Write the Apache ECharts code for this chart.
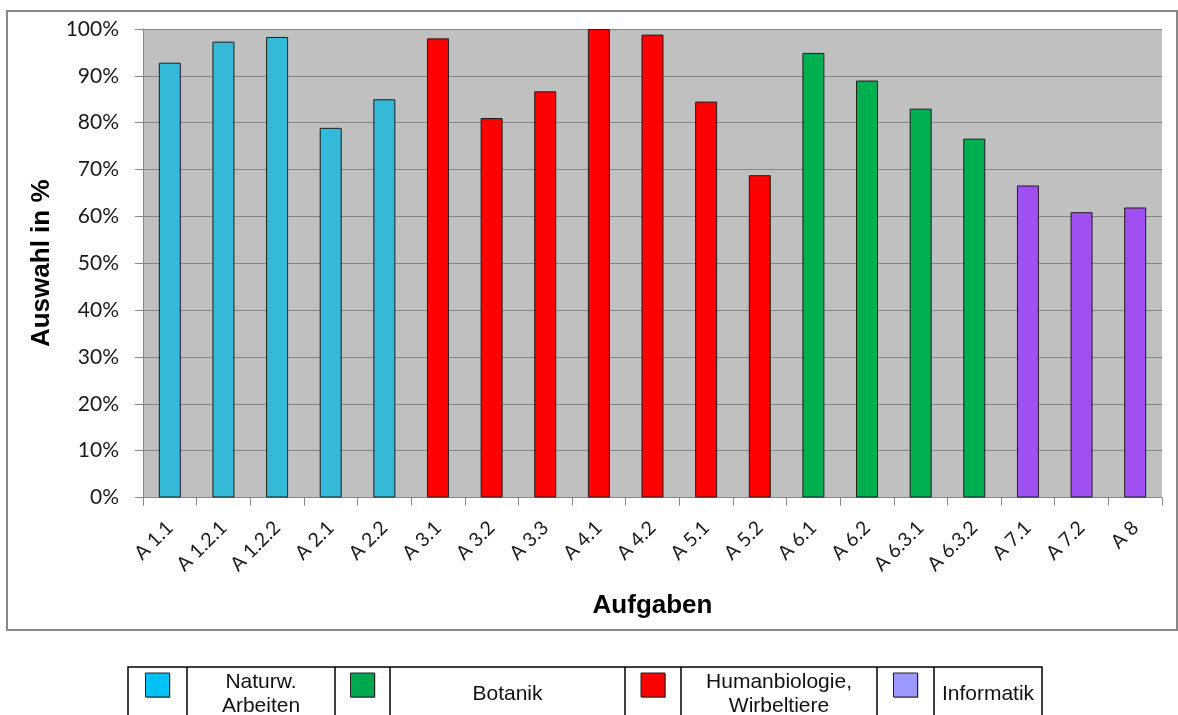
<!DOCTYPE html>
<html>
<head>
<meta charset="utf-8">
<script src="https://cdn.jsdelivr.net/npm/echarts@6/dist/echarts.min.js"></script>
<style>
html,body{margin:0;padding:0;background:#fff;}
#chart{width:1178px;height:715px;}
</style>
</head>
<body>
<div id="chart"></div>
<script>
const categories = ['A 1.1','A 1.2.1','A 1.2.2','A 2.1','A 2.2','A 3.1','A 3.2','A 3.3','A 4.1','A 4.2','A 5.1','A 5.2','A 6.1','A 6.2','A 6.3.1','A 6.3.2','A 7.1','A 7.2','A 8'];
const values = [92.8, 97.3, 98.3, 78.9, 85.0, 98.0, 81.0, 86.7, 100, 98.8, 84.5, 68.8, 94.9, 89.0, 83.0, 76.6, 66.6, 60.9, 61.9];
const groups = ['nat','nat','nat','nat','nat','hum','hum','hum','hum','hum','hum','hum','bot','bot','bot','bot','inf','inf','inf'];
const groupBarColors = {nat:'#35B9D9', bot:'#00AF50', hum:'#FF0000', inf:'#A050F0'};
const legendItems = [
  {label:'Naturw.\nArbeiten', color:'#00C2F5'},
  {label:'Botanik', color:'#00A84F'},
  {label:'Humanbiologie,\nWirbeltiere', color:'#FF0000'},
  {label:'Informatik', color:'#9999FF'}
];
const yTickMax = 100, yTickStep = 10;

const chart = echarts.init(document.getElementById('chart'));

// legend table layout (cell boundaries)
const colX = [128, 187, 335, 390, 625, 681, 877, 934, 1042];
const tTop = 667, tBottom = 740;
const legendGraphics = [];
legendGraphics.push({type:'rect', shape:{x:colX[0], y:tTop, width:colX[8]-colX[0], height:tBottom-tTop},
  style:{fill:'#fff', stroke:'#000', lineWidth:1.5}, z:10});
for (let i=1;i<colX.length-1;i++){
  legendGraphics.push({type:'line', shape:{x1:colX[i], y1:tTop, x2:colX[i], y2:tBottom}, style:{stroke:'#000', lineWidth:1.5}, z:11});
}
legendItems.forEach((it, k) => {
  const bx0 = colX[2*k], bx1 = colX[2*k+1], tx1 = colX[2*k+2];
  const cx = (bx0+bx1)/2;
  legendGraphics.push({type:'rect', shape:{x:cx-12+1, y:673+1, width:24, height:24}, style:{fill:'#999', stroke:null}, z:11});
  legendGraphics.push({type:'rect', shape:{x:cx-12, y:673, width:24, height:24}, style:{fill:it.color, stroke:'#222', lineWidth:1}, z:12});
  legendGraphics.push({type:'text', x:(bx1+tx1)/2, y:694, z:12,
    style:{text:it.label, fill:'#111', font:'21px "Liberation Sans", Arial, sans-serif', align:'center', verticalAlign:'middle', lineHeight:24}});
});

const option = {
  animation:false,
  backgroundColor:'#fff',
  grid:{left:143, right:16, top:29, bottom:217.5, show:true, backgroundColor:'#C0C0C0', borderWidth:0},
  xAxis:{
    type:'category',
    data:categories,
    name:'Aufgaben',
    nameLocation:'middle',
    nameGap:95,
    nameTextStyle:{fontFamily:'"Liberation Sans", Arial, sans-serif', fontWeight:'bold', fontSize:26, color:'#000'},
    axisLine:{lineStyle:{color:'#868686', width:1}},
    axisTick:{show:true, length:8, lineStyle:{color:'#868686'}},
    axisLabel:{interval:0, rotate:45, margin:27, fontFamily:'Lato, "Open Sans", sans-serif', fontSize:19.5, color:'#1a1a1a'}
  },
  yAxis:{
    type:'value',
    min:0, max:yTickMax, interval:yTickStep,
    name:'Auswahl in %',
    nameLocation:'middle',
    nameGap:86,
    nameTextStyle:{fontFamily:'"Liberation Sans", Arial, sans-serif', fontWeight:'bold', fontSize:26, color:'#000'},
    axisLine:{show:true, lineStyle:{color:'#868686', width:1}},
    axisTick:{show:true, length:8, lineStyle:{color:'#868686'}},
    axisLabel:{formatter:'{value}%', margin:24, fontFamily:'Lato, "Open Sans", sans-serif', fontSize:21, color:'#1a1a1a'},
    splitLine:{lineStyle:{color:'#868686', width:1.2}}
  },
  series:[{
    type:'bar',
    barWidth:'41%',
    data: values.map((v,i)=>({value:v, itemStyle:{color:groupBarColors[groups[i]]}})),
    itemStyle:{borderColor:'#1e1e1e', borderWidth:1}
  }],
  graphic:[
    {type:'rect', shape:{x:7, y:11, width:1170, height:619}, style:{fill:null, stroke:'#888', lineWidth:2}, z:-1, silent:true},
    ...legendGraphics
  ]
};
chart.setOption(option);
</script>
</body>
</html>
